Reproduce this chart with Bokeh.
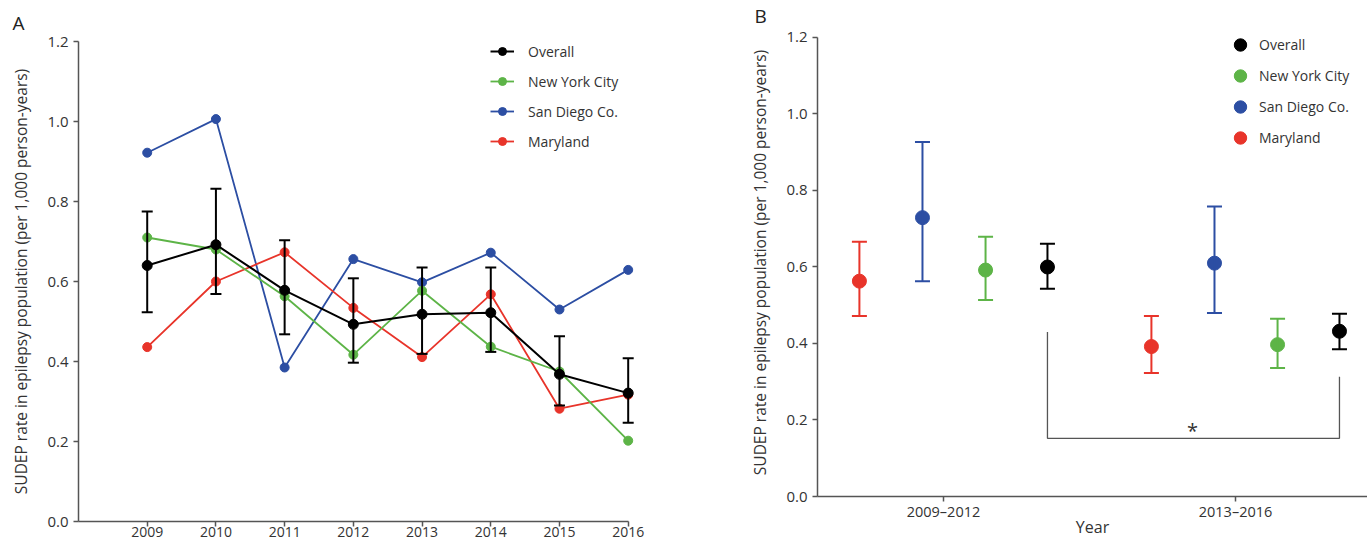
from bokeh.plotting import figure
from bokeh.layouts import row, column
from bokeh.models import (FixedTicker, Legend, LegendItem, Whisker, TeeHead,
                          ColumnDataSource, Range1d, NumeralTickFormatter)
from bokeh.core.properties import value
from bokeh.embed import file_html
from bokeh.resources import INLINE

# ---------------- data ----------------
years = [2009, 2010, 2011, 2012, 2013, 2014, 2015, 2016]
overall = [0.640, 0.692, 0.578, 0.493, 0.518, 0.522, 0.368, 0.321]
overall_lower = [0.523, 0.569, 0.468, 0.397, 0.419, 0.424, 0.290, 0.247]
overall_upper = [0.775, 0.832, 0.703, 0.608, 0.635, 0.635, 0.463, 0.408]
nyc = [0.710, 0.680, 0.563, 0.417, 0.577, 0.437, 0.375, 0.202]
san_diego = [0.922, 1.006, 0.385, 0.656, 0.598, 0.672, 0.530, 0.629]
maryland = [0.436, 0.600, 0.673, 0.534, 0.411, 0.568, 0.282, 0.317]

periods = ["2009\u20132012", "2013\u20132016"]
b_overall = [0.600, 0.432]
b_overall_lower = [0.543, 0.385]
b_overall_upper = [0.661, 0.478]
b_nyc = [0.592, 0.397]
b_nyc_lower = [0.514, 0.336]
b_nyc_upper = [0.679, 0.465]
b_sd = [0.729, 0.610]
b_sd_lower = [0.563, 0.480]
b_sd_upper = [0.927, 0.758]
b_md = [0.563, 0.392]
b_md_lower = [0.472, 0.323]
b_md_upper = [0.666, 0.472]
bracket_left_top = 0.430
bracket_right_top = 0.313
bracket_level = 0.152
bracket_text = "*"

series_names = ["Overall", "New York City", "San Diego Co.", "Maryland"]
y_ticks = [0.0, 0.2, 0.4, 0.6, 0.8, 1.0, 1.2]
y_label = "SUDEP rate in epilepsy population (per 1,000 person-years)"

# ---------------- style ----------------
FONT = "Open Sans"
TEXT = "#333333"
AXIS = "#555555"
C_OVERALL = "#000000"
C_NYC = "#5db447"
C_SD = "#2c4ea3"
C_MD = "#e8342a"


def style(p, panel_letter, letter_offset, letter_standoff):
    p.xgrid.visible = False
    p.ygrid.visible = False
    p.outline_line_color = None
    p.background_fill_color = "white"
    p.border_fill_color = "white"
    for ax in (p.xaxis[0], p.yaxis[0]):
        ax.axis_line_color = AXIS
        ax.axis_line_width = 1.5
        ax.major_tick_line_color = AXIS
        ax.major_tick_line_width = 1.5
        ax.major_tick_in = 0
        ax.major_tick_out = 5
        ax.minor_tick_line_color = None
        ax.major_label_text_font = FONT
        ax.major_label_text_font_size = "15px"
        ax.major_label_text_color = TEXT
        ax.axis_label_text_font = FONT
        ax.axis_label_text_font_size = "15.5px"
        ax.axis_label_text_color = TEXT
        ax.axis_label_text_font_style = "normal"
    p.yaxis[0].ticker = FixedTicker(ticks=y_ticks)
    p.yaxis[0].formatter = NumeralTickFormatter(format="0.0")
    p.yaxis[0].axis_label = y_label
    p.yaxis[0].major_label_standoff = 5
    p.yaxis[0].axis_label_standoff = 12
    p.yaxis[0].bounds = (0, 1.2)
    p.title.text = panel_letter
    p.title.align = "left"
    p.title.offset = letter_offset
    p.title.text_font = FONT
    p.title.text_font_size = "19px"
    p.title.text_font_style = "normal"
    p.title.text_color = "#222222"
    p.title.standoff = letter_standoff


# ---------------- panel A ----------------
pa = figure(width=700, height=540, x_range=Range1d(2008, 2016.15), y_range=Range1d(0, 1.2),
            output_backend="svg", toolbar_location=None,
            min_border_left=78, min_border_right=62, min_border_top=41, min_border_bottom=19)
style(pa, "A", -66, 12)
pa.xaxis[0].ticker = FixedTicker(ticks=years)
pa.xaxis[0].bounds = (2008, 2016)
pa.xaxis[0].major_label_standoff = 0
pa.xaxis[0].major_label_text_font_size = "14px"

src_o = ColumnDataSource(dict(x=years, y=overall, lo=overall_lower, hi=overall_upper))

l_sd = pa.line(years, san_diego, line_color=C_SD, line_width=1.8)
s_sd = pa.scatter(years, san_diego, size=9, fill_color=C_SD, line_color=C_SD)
l_md = pa.line(years, maryland, line_color=C_MD, line_width=1.8)
s_md = pa.scatter(years, maryland, size=9, fill_color=C_MD, line_color=C_MD)
l_ny = pa.line(years, nyc, line_color=C_NYC, line_width=1.8)
s_ny = pa.scatter(years, nyc, size=9, fill_color=C_NYC, line_color=C_NYC)
wa = Whisker(base="x", lower="lo", upper="hi", source=src_o, dimension="height",
             line_color=C_OVERALL, line_width=2, level="glyph",
             upper_head=TeeHead(size=11, line_color=C_OVERALL, line_width=2),
             lower_head=TeeHead(size=11, line_color=C_OVERALL, line_width=2))
pa.add_layout(wa)
l_o = pa.line("x", "y", source=src_o, line_color=C_OVERALL, line_width=2)
s_o = pa.scatter("x", "y", source=src_o, size=10, fill_color=C_OVERALL, line_color=C_OVERALL)

leg_a = Legend(items=[LegendItem(label=series_names[0], renderers=[l_o, s_o]),
                      LegendItem(label=series_names[1], renderers=[l_ny, s_ny]),
                      LegendItem(label=series_names[2], renderers=[l_sd, s_sd]),
                      LegendItem(label=series_names[3], renderers=[l_md, s_md])],
               location=(412, 370), orientation="vertical",
               glyph_width=24, glyph_height=20, label_height=20, spacing=10,
               padding=0, margin=0, label_standoff=14,
               border_line_color=None, background_fill_alpha=0,
               label_text_font=FONT, label_text_font_size="14px", label_text_color=TEXT)
pa.add_layout(leg_a)

# ---------------- panel B ----------------
offsets = {"md": -0.288, "sd": -0.072, "nyc": 0.144, "overall": 0.356}
group_x = [1, 2]

pb = figure(width=667, height=540, x_range=Range1d(0.5685, 2.452), y_range=Range1d(0, 1.2235),
            output_backend="svg", toolbar_location=None,
            min_border_left=117, min_border_right=0, min_border_top=26, min_border_bottom=43)
style(pb, "B", -63, 0)
pb.xaxis[0].ticker = FixedTicker(ticks=group_x)
pb.xaxis[0].major_label_overrides = {1: periods[0], 2: periods[1]}
pb.xaxis[0].axis_label = "Year"
pb.xaxis[0].major_label_standoff = 0
pb.xaxis[0].axis_label_standoff = -8
pb.xaxis[0].major_label_text_font_size = "14.5px"
pb.xaxis[0].axis_label_text_font_size = "16px"

renders_b = {}
for key, vals, lo, hi, col in [("md", b_md, b_md_lower, b_md_upper, C_MD),
                               ("sd", b_sd, b_sd_lower, b_sd_upper, C_SD),
                               ("nyc", b_nyc, b_nyc_lower, b_nyc_upper, C_NYC),
                               ("overall", b_overall, b_overall_lower, b_overall_upper, C_OVERALL)]:
    xs = [g + offsets[key] for g in group_x]
    src = ColumnDataSource(dict(x=xs, y=vals, lo=lo, hi=hi))
    pb.add_layout(Whisker(base="x", lower="lo", upper="hi", source=src, dimension="height",
                          line_color=col, line_width=2, level="glyph",
                          upper_head=TeeHead(size=15, line_color=col, line_width=2),
                          lower_head=TeeHead(size=15, line_color=col, line_width=2)))
    renders_b[key] = pb.scatter("x", "y", source=src, size=14, fill_color=col, line_color=col)

xo1 = group_x[0] + offsets["overall"]
xo2 = group_x[1] + offsets["overall"]
pb.line([xo1, xo1, xo2, xo2],
        [bracket_left_top, bracket_level, bracket_level, bracket_right_top],
        line_color="#555555", line_width=1.3)
pb.text(x=[1.853], y=[0.173], text=[bracket_text], text_font=value(FONT),
        text_font_size="20px", text_color="#333333", text_align="center",
        text_baseline="alphabetic")

leg_b = Legend(items=[LegendItem(label=series_names[0], renderers=[renders_b["overall"]]),
                      LegendItem(label=series_names[1], renderers=[renders_b["nyc"]]),
                      LegendItem(label=series_names[2], renderers=[renders_b["sd"]]),
                      LegendItem(label=series_names[3], renderers=[renders_b["md"]])],
               location=(407, 343), orientation="vertical",
               glyph_width=32, glyph_height=31, label_height=31, spacing=0,
               padding=0, margin=0, label_standoff=3,
               border_line_color=None, background_fill_alpha=0,
               label_text_font=FONT, label_text_font_size="14px", label_text_color=TEXT)
pb.add_layout(leg_b)

layout = row(column(pa), column(pb), spacing=0)
open("out.html", "w").write(file_html(layout, INLINE))
